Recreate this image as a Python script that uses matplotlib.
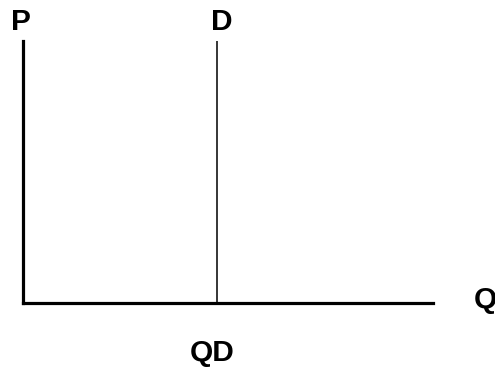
import matplotlib
matplotlib.use("Agg")
import matplotlib.pyplot as plt

# Data
axis_labels = ["Q", "P"]
curve_label = "D"
qd_label = "QD"
q_max = 1.0
p_max = 1.0
qd_value = 0.473  # quantity demanded (fraction of Q axis)

W, H = 495, 370
fig = plt.figure(figsize=(W / 100, H / 100), dpi=100)
x0, y0, x1, y1 = 23, 303, 433, 41
ax = fig.add_axes([x0 / W, (H - y0) / H, (x1 - x0) / W, (y0 - y1) / H])
ax.set_xlim(0, q_max)
ax.set_ylim(0, p_max)
for s in ["top", "right"]:
    ax.spines[s].set_visible(False)
ax.spines["left"].set_linewidth(2.3)
ax.spines["bottom"].set_linewidth(2.3)
ax.set_xticks([])
ax.set_yticks([])

ax.plot([qd_value, qd_value], [0, p_max], color="black", lw=1.1, solid_capstyle="butt")

font = dict(family="Liberation Sans", fontweight="bold", fontsize=21.5, color="black")
fig.text(21 / W, 1 - 22.5 / H, axis_labels[1], ha="center", va="center", **font)
fig.text(222 / W, 1 - 22.5 / H, curve_label, ha="center", va="center", **font)
fig.text(485 / W, 1 - 300 / H, axis_labels[0], ha="center", va="center", **font)
fig.text(212 / W, 1 - 353 / H, qd_label, ha="center", va="center", **font)

fig.savefig("out.png", dpi=100)
